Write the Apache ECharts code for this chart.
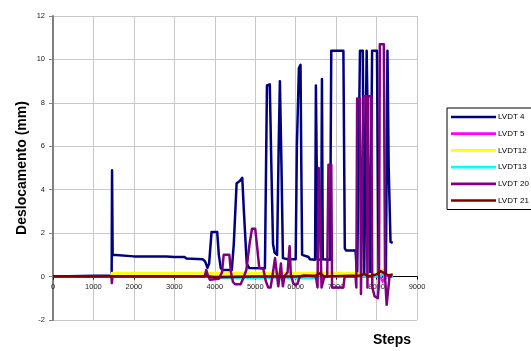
<!DOCTYPE html>
<html>
<head>
<meta charset="utf-8">
<script src="https://cdn.jsdelivr.net/npm/echarts@6/dist/echarts.min.js"></script>
<style>html,body{margin:0;padding:0;background:#fff}#c{width:531px;height:351px}</style>
</head>
<body>
<div id="c"></div>
<script>
const seriesNames = ['LVDT 4', 'LVDT 5', 'LVDT12', 'LVDT13', 'LVDT 20', 'LVDT 21'];
const xTicks = [0, 1000, 2000, 3000, 4000, 5000, 6000, 7000, 8000, 9000];
const yTicks = [-2, 0, 2, 4, 6, 8, 10, 12];

const lvdt4 = [[0,0],[1450,0.05],[1460,4.9],[1475,1.0],[1520,0.95],[2000,0.93],[2500,0.92],[2800,0.92],[3000,0.9],[3250,0.9],[3300,0.83],[3700,0.8],[3760,0.7],[3820,0.4],[3860,0.6],[3920,2.05],[4060,2.05],[4100,1.0],[4150,0.38],[4200,0.3],[4420,0.3],[4470,1.5],[4540,4.3],[4620,4.4],[4680,4.55],[4720,3.0],[4790,0.6],[4850,0.4],[5240,0.38],[5290,8.8],[5360,8.85],[5400,5.0],[5440,1.5],[5480,1.1],[5540,1.0],[5580,6.0],[5610,9.0],[5650,5.0],[5685,0.85],[5800,0.8],[6000,0.8],[6030,6.0],[6080,9.6],[6120,9.75],[6140,5.0],[6160,1.0],[6320,0.9],[6350,0.8],[6480,0.78],[6500,8.8],[6520,8.85],[6545,0.78],[6630,0.78],[6650,9.1],[6670,0.8],[6850,0.78],[6880,10.4],[7180,10.4],[7215,1.3],[7250,1.2],[7480,1.2],[7520,0.0],[7560,0.0],[7590,10.4],[7660,10.4],[7695,0.0],[7730,0.0],[7755,10.4],[7800,10.4],[7840,0.0],[7870,0.0],[7890,10.4],[8010,10.4],[8050,0.0],[8230,0.0],[8270,10.4],[8300,5.0],[8345,1.6],[8400,1.55]];
const lvdt5 = [[0,0],[8100,0],[8150,-0.25],[8200,0],[8400,0]];
const lvdt12 = [[0,0],[1440,0],[1460,0.15],[7500,0.15],[7600,0.1],[8000,0.1],[8150,0.3],[8200,0.1],[8400,0.1]];
const lvdt13 = [[0,0],[3900,0],[4000,-0.08],[6500,-0.08],[7000,0],[8100,0],[8150,0.2],[8200,-0.1],[8400,0]];
const lvdt20 = [[0,0],[1445,0],[1455,-0.3],[1470,0],[3750,0],[3790,0.3],[3830,0.05],[3880,-0.15],[4100,-0.1],[4180,0.2],[4220,1.0],[4360,1.0],[4400,0.2],[4450,-0.25],[4500,-0.35],[4640,-0.35],[4700,-0.1],[4780,0.3],[4860,1.5],[4920,2.2],[5000,2.2],[5040,1.5],[5100,0.4],[5200,0.35],[5260,-0.2],[5320,-0.5],[5380,-0.5],[5440,0.2],[5490,0.85],[5530,0.2],[5570,-0.45],[5600,0.0],[5635,0.6],[5660,0.0],[5685,-0.45],[5720,0.0],[5800,0.2],[5850,1.4],[5880,0.1],[5940,-0.3],[6000,-0.4],[6050,-0.3],[6100,0.0],[6200,0.05],[6500,0.0],[6540,-0.5],[6570,5.0],[6610,5.0],[6640,-0.5],[6680,-0.5],[6710,0.0],[6780,0.0],[6810,5.15],[6880,5.15],[6900,-0.5],[7180,-0.5],[7210,0.0],[7480,0],[7500,-0.5],[7520,8.2],[7590,8.2],[7615,-0.8],[7650,-0.8],[7680,8.3],[7750,8.3],[7775,-0.5],[7795,8.3],[7870,8.3],[7895,-0.5],[7950,-0.9],[8030,-1.0],[8060,-0.3],[8080,10.7],[8180,10.7],[8210,0],[8250,-1.3],[8290,-1.3],[8320,0],[8380,0]];
const lvdt21 = [[0,0.02],[1450,0.02],[3800,0.02],[4000,-0.03],[5000,0],[6000,0],[6500,0.05],[6600,0.15],[6700,0.0],[7600,0.05],[7700,0.12],[7800,0.0],[8000,0.1],[8100,0.25],[8200,0.15],[8300,0.05],[8400,0.1]];

const dataSets = [lvdt4, lvdt5, lvdt12, lvdt13, lvdt20, lvdt21];
const colors = ['#000080', '#FF00FF', '#FFFF00', '#00FFFF', '#800080', '#800000'];
const widths = [2.5, 2, 3, 2, 2.5, 2.5];

const chart = echarts.init(document.getElementById('c'), null, {renderer: 'canvas'});
chart.setOption({
  animation: false,
  backgroundColor: '#fff',
  grid: {left: 53, right: 114, top: 16, bottom: 31},
  legend: {
    orient: 'vertical',
    left: 447, top: 108,
    padding: [5, 40, 5, 4],
    itemWidth: 45, itemHeight: 8, itemGap: 8.7,
    icon: 'path://M0,0 L100,0 L100,6 L0,6 Z',
    borderColor: '#000', borderWidth: 1,
    textStyle: {fontFamily: 'Liberation Sans, Arial', fontSize: 8, color: '#000', padding: [0,0,0,-3]},
    data: seriesNames
  },
  xAxis: {
    type: 'value', min: xTicks[0], max: xTicks[xTicks.length-1], interval: 1000,
    axisLine: {onZero: true, lineStyle: {color: '#000', width: 1}},
    axisTick: {show: true, length: 3, lineStyle: {color: '#000'}},
    axisLabel: {fontFamily: 'Liberation Sans, Arial', fontSize: 7.5, color: '#222', margin: -37,
      formatter: v => String(v)},
    splitLine: {show: true, lineStyle: {color: '#c8c8c8', width: 1}}
  },
  yAxis: {
    type: 'value', min: yTicks[0], max: yTicks[yTicks.length-1], interval: 2,
    axisLine: {show: true, lineStyle: {color: '#808080', width: 2}},
    axisTick: {show: true, length: 4, lineStyle: {color: '#808080'}},
    axisLabel: {fontFamily: 'Liberation Sans, Arial', fontSize: 7.5, color: '#222', margin: 8},
    splitLine: {show: true, lineStyle: {color: '#c8c8c8', width: 1}}
  },
  graphic: [{
    type: 'text', x: 22, y: 168, rotation: Math.PI / 2,
    style: {text: 'Deslocamento (mm)', font: 'bold 14px "Liberation Sans", Arial', fill: '#000',
      align: 'center', verticalAlign: 'middle'}
  }, {
    type: 'text', left: 373, top: 333,
    style: {text: 'Steps', font: 'bold 14px "Liberation Sans", Arial', fill: '#000'}
  }],
  series: seriesNames.map((n, i) => ({
    name: n, type: 'line', data: dataSets[i], showSymbol: false, symbol: 'none',
    color: colors[i],
    lineStyle: {color: colors[i], width: widths[i], join: 'round'},
    clip: false
  }))
});
</script>
</body>
</html>
